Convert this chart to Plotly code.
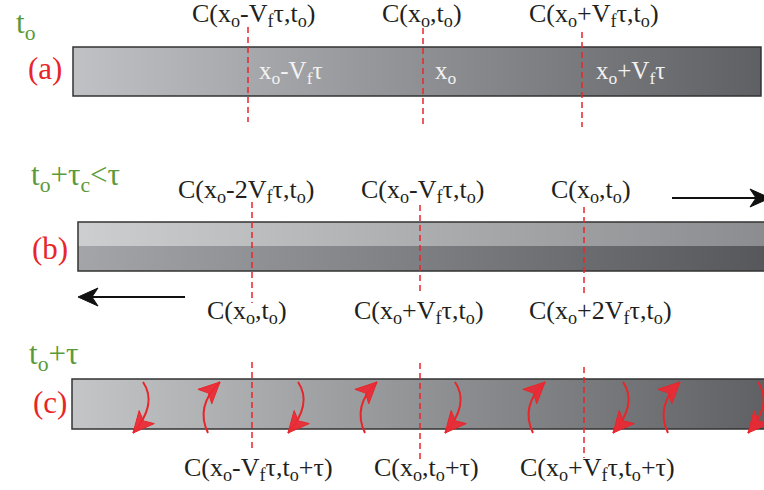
import numpy as np
import plotly.graph_objects as go

W, H = 764, 490
SERIF = "Liberation Serif"
RED = "#e8262a"
GREEN = "#5b9a3a"

# ---- text content ----
row_tags = ["(a)", "(b)", "(c)"]
row_times = ["t<sub>o</sub>", "t<sub>o</sub>+τ<sub>c</sub>&lt;τ", "t<sub>o</sub>+τ"]

labels_a_top = ["C(x<sub>o</sub>-V<sub>f</sub>τ,t<sub>o</sub>)",
                "C(x<sub>o</sub>,t<sub>o</sub>)",
                "C(x<sub>o</sub>+V<sub>f</sub>τ,t<sub>o</sub>)"]
labels_a_in = ["x<sub>o</sub>-V<sub>f</sub>τ", "x<sub>o</sub>", "x<sub>o</sub>+V<sub>f</sub>τ"]
labels_b_top = ["C(x<sub>o</sub>-2V<sub>f</sub>τ,t<sub>o</sub>)",
                "C(x<sub>o</sub>-V<sub>f</sub>τ,t<sub>o</sub>)",
                "C(x<sub>o</sub>,t<sub>o</sub>)"]
labels_b_bot = ["C(x<sub>o</sub>,t<sub>o</sub>)",
                "C(x<sub>o</sub>+V<sub>f</sub>τ,t<sub>o</sub>)",
                "C(x<sub>o</sub>+2V<sub>f</sub>τ,t<sub>o</sub>)"]
labels_c_bot = ["C(x<sub>o</sub>-V<sub>f</sub>τ,t<sub>o</sub>+τ)",
                "C(x<sub>o</sub>,t<sub>o</sub>+τ)",
                "C(x<sub>o</sub>+V<sub>f</sub>τ,t<sub>o</sub>+τ)"]

# ---- reference point positions along each bar ----
ref_x_a = [248, 423, 582]
ref_x_b = [252, 420, 584]
ref_x_c = [252, 420, 584]

# label centres
lab_a_top_x = [254, 422, 594]
lab_a_in_x = [291, 446, 630]
lab_b_top_x = [246, 423, 591]
lab_b_bot_x = [247, 419, 600]
lab_c_bot_x = [258, 426, 597]

# curl (eddy) arrows in panel (c)
curl_x = [143, 208, 298, 365, 455, 533, 623, 668, 758]
curl_dir = ["down", "up", "down", "up", "down", "up", "down", "up", "down"]

fig = go.Figure()

def grad_rect(x0, x1, y0, y1, c0, c1):
    fig.add_trace(go.Scatter(
        x=[x0, x1, x1, x0, x0], y=[y0, y0, y1, y1, y0],
        mode="lines", line=dict(width=0), fill="toself",
        fillgradient=dict(type="horizontal", colorscale=[[0, c0], [1, c1]]),
        hoverinfo="skip", showlegend=False))

# bar (a)
grad_rect(73, 761, 47, 96, "#c0c1c4", "#5f6064")
# bar (b)
grad_rect(78, 770, 222, 246, "#cdcecf", "#8b8c8f")
grad_rect(78, 770, 246, 271, "#a4a5a8", "#56575a")
# bar (c)
grad_rect(72, 770, 379, 429, "#c4c5c7", "#5f6063")

shapes = []
border = dict(color="#333333", width=1.5)
shapes.append(dict(type="rect", x0=73, x1=761, y0=47, y1=96, line=border))
shapes.append(dict(type="path", path="M 790 222 L 78 222 L 78 271 L 790 271", line=border))
shapes.append(dict(type="path", path="M 790 379 L 72 379 L 72 429 L 790 429", line=border))

# dashed reference lines
dash = dict(color=RED, width=1.5, dash="6px,4px")
for x, (y0, y1) in zip(ref_x_a, [(27, 122), (28, 127), (32, 127)]):
    shapes.append(dict(type="line", x0=x, x1=x, y0=y0, y1=y1, line=dash))
for x, (y0, y1) in zip(ref_x_b, [(202, 303), (205, 293), (207, 297)]):
    shapes.append(dict(type="line", x0=x, x1=x, y0=y0, y1=y1, line=dash))
for x, (y0, y1) in zip(ref_x_c, [(362, 450), (363, 462), (367, 458)]):
    shapes.append(dict(type="line", x0=x, x1=x, y0=y0, y1=y1, line=dash))

# black direction arrows
def stealth(tipx, tipy, d):
    # d = +1 points right, -1 points left
    bx = tipx - d * 20
    nx = tipx - d * 14
    return f"M {tipx} {tipy} L {bx} {tipy-9} L {nx} {tipy} L {bx} {tipy+9} Z"

shapes.append(dict(type="line", x0=672, x1=756, y0=198, y1=198, line=dict(color="#111", width=2.2)))
shapes.append(dict(type="path", path=stealth(770, 198, 1), fillcolor="#111", line=dict(color="#111", width=1)))
shapes.append(dict(type="line", x0=90, x1=185, y0=297, y1=297, line=dict(color="#111", width=2.2)))
shapes.append(dict(type="path", path=stealth(78, 297, -1), fillcolor="#111", line=dict(color="#111", width=1)))

# curled red arrows
for x, d in zip(curl_x, curl_dir):
    if d == "down":
        p0 = np.array([x, 382.0]); c = np.array([x + 15, 404.0]); p2 = np.array([x - 10, 433.0])
    else:
        p0 = np.array([x, 433.0]); c = np.array([x - 13, 406.0]); p2 = np.array([x + 12, 382.0])
    shapes.append(dict(type="path",
                       path=f"M {p0[0]} {p0[1]} Q {c[0]} {c[1]} {p2[0]} {p2[1]}",
                       line=dict(color=RED, width=2)))
    v = p2 - c
    v = v / np.linalg.norm(v)
    n = np.array([-v[1], v[0]])
    base = p2 - v * 21
    notch = p2 - v * 16
    a = base + n * 10
    b = base - n * 10
    shapes.append(dict(type="path",
                       path=f"M {p2[0]} {p2[1]} L {a[0]} {a[1]} L {notch[0]} {notch[1]} L {b[0]} {b[1]} Z",
                       fillcolor="rgba(236,40,52,0.92)", line=dict(color=RED, width=1)))

ann = []
def txt(x, y, s, color="#231f20", size=26):
    ann.append(dict(x=x, y=y, text=s, showarrow=False, xanchor="center", yanchor="middle",
                    font=dict(family=SERIF, size=size, color=color)))

for x, s in zip(lab_a_top_x, labels_a_top):
    txt(x, 15, s)
for x, s in zip(lab_a_in_x, labels_a_in):
    txt(x, 72, s, color="#f2f2f2", size=25)
for x, s in zip(lab_b_top_x, labels_b_top):
    txt(x, 191, s)
for x, s in zip(lab_b_bot_x, labels_b_bot):
    txt(x, 312, s)
for x, s in zip(lab_c_bot_x, labels_c_bot):
    txt(x, 469, s)

for (x, y), s in zip([(45, 68), (50, 248), (50, 402)], row_tags):
    txt(x, y, s, color=RED, size=31)
for (x, y), s in zip([(26, 25), (75, 177), (53, 356)], row_times):
    txt(x, y, s, color=GREEN, size=31)

fig.update_layout(
    width=W, height=H, margin=dict(l=0, r=0, t=0, b=0),
    paper_bgcolor="white", plot_bgcolor="white",
    xaxis=dict(range=[0, W], visible=False, fixedrange=True),
    yaxis=dict(range=[H, 0], visible=False, fixedrange=True),
    shapes=shapes, annotations=ann, showlegend=False,
)
fig.write_html("out.html", config={"displayModeBar": False},
               post_script="document.body.style.margin='0';document.body.style.overflow='hidden';")
